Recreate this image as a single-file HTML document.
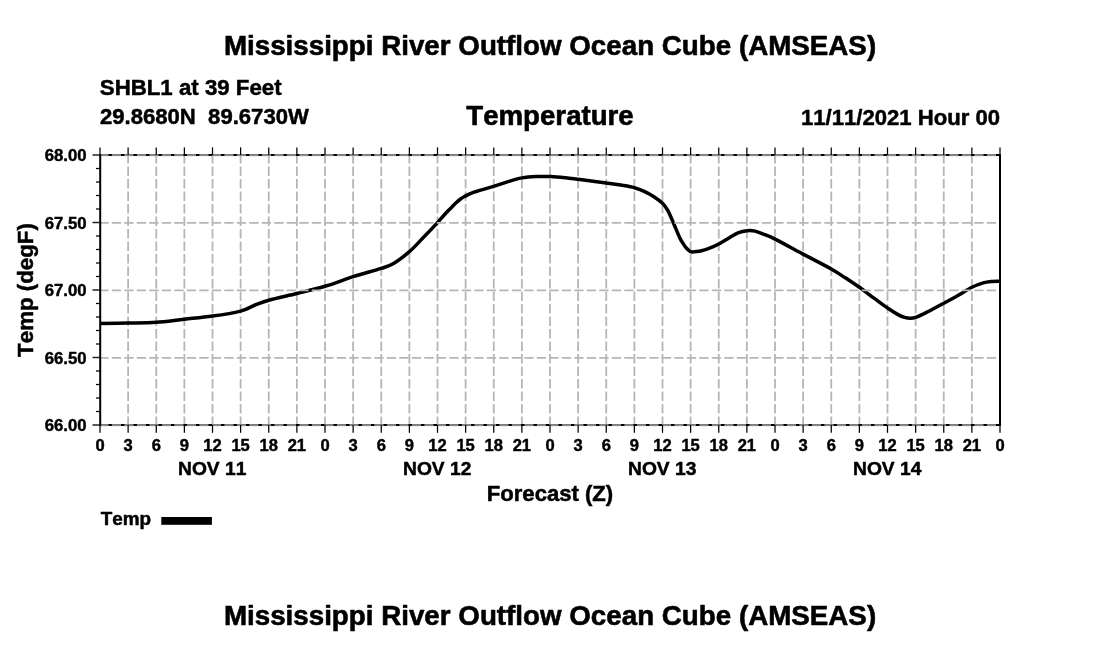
<!DOCTYPE html>
<html><head><meta charset="utf-8"><title>Temperature</title>
<style>html,body{margin:0;padding:0;background:#fff;}body{width:1100px;height:650px;overflow:hidden;font-family:"Liberation Sans",sans-serif;}text{font-kerning:none;font-feature-settings:"kern" 0,"liga" 0;}svg{display:block;will-change:transform;transform:translateZ(0);}</style></head>
<body>
<svg width="1100" height="650" viewBox="0 0 1100 650">
<rect width="1100" height="650" fill="#fff"/>
<g stroke="#b6b6b6" stroke-width="1.8" stroke-dasharray="9.3 3.2" fill="none">
<line x1="128.12" y1="425.9" x2="128.12" y2="155"/>
<line x1="156.25" y1="425.9" x2="156.25" y2="155"/>
<line x1="184.38" y1="425.9" x2="184.38" y2="155"/>
<line x1="212.50" y1="425.9" x2="212.50" y2="155"/>
<line x1="240.62" y1="425.9" x2="240.62" y2="155"/>
<line x1="268.75" y1="425.9" x2="268.75" y2="155"/>
<line x1="296.88" y1="425.9" x2="296.88" y2="155"/>
<line x1="325.00" y1="425.9" x2="325.00" y2="155"/>
<line x1="353.12" y1="425.9" x2="353.12" y2="155"/>
<line x1="381.25" y1="425.9" x2="381.25" y2="155"/>
<line x1="409.38" y1="425.9" x2="409.38" y2="155"/>
<line x1="437.50" y1="425.9" x2="437.50" y2="155"/>
<line x1="465.62" y1="425.9" x2="465.62" y2="155"/>
<line x1="493.75" y1="425.9" x2="493.75" y2="155"/>
<line x1="521.88" y1="425.9" x2="521.88" y2="155"/>
<line x1="550.00" y1="425.9" x2="550.00" y2="155"/>
<line x1="578.12" y1="425.9" x2="578.12" y2="155"/>
<line x1="606.25" y1="425.9" x2="606.25" y2="155"/>
<line x1="634.38" y1="425.9" x2="634.38" y2="155"/>
<line x1="662.50" y1="425.9" x2="662.50" y2="155"/>
<line x1="690.62" y1="425.9" x2="690.62" y2="155"/>
<line x1="718.75" y1="425.9" x2="718.75" y2="155"/>
<line x1="746.88" y1="425.9" x2="746.88" y2="155"/>
<line x1="775.00" y1="425.9" x2="775.00" y2="155"/>
<line x1="803.12" y1="425.9" x2="803.12" y2="155"/>
<line x1="831.25" y1="425.9" x2="831.25" y2="155"/>
<line x1="859.38" y1="425.9" x2="859.38" y2="155"/>
<line x1="887.50" y1="425.9" x2="887.50" y2="155"/>
<line x1="915.62" y1="425.9" x2="915.62" y2="155"/>
<line x1="943.75" y1="425.9" x2="943.75" y2="155"/>
<line x1="971.88" y1="425.9" x2="971.88" y2="155"/>
</g>
<path d="M100.0,323.6C104.7,323.5 118.7,323.3 128.1,323.1C137.5,322.9 146.8,323.0 156.2,322.3C165.6,321.6 175.0,320.2 184.4,319.2C193.8,318.2 203.1,317.5 212.5,316.1C221.9,314.8 233.7,312.9 240.6,311.1C247.5,309.3 249.3,307.3 254.0,305.5C258.7,303.7 261.7,302.2 268.8,300.2C275.9,298.2 287.5,295.8 296.9,293.5C306.3,291.2 315.6,289.1 325.0,286.3C334.4,283.5 343.7,279.7 353.1,276.7C362.5,273.7 374.4,270.6 381.2,268.4C388.0,266.1 389.3,266.0 394.0,263.2C398.7,260.4 404.6,255.8 409.4,251.7C414.2,247.5 417.9,243.2 422.6,238.3C427.3,233.5 434.1,226.3 437.5,222.6C440.9,218.9 441.4,218.1 443.3,216.0C445.2,213.9 446.9,212.1 449.1,209.8C451.3,207.6 454.5,204.3 456.4,202.5C458.3,200.7 459.1,200.0 460.5,199.0C461.9,198.0 462.8,197.4 464.5,196.5C466.2,195.6 468.6,194.2 470.9,193.3C473.2,192.4 474.6,192.0 478.2,190.9C481.8,189.8 487.8,188.2 492.7,186.7C497.6,185.2 502.5,183.4 507.3,181.9C512.1,180.4 516.9,178.8 521.8,177.9C526.6,177.0 531.5,176.7 536.4,176.5C541.2,176.3 546.0,176.4 550.9,176.6C555.8,176.8 560.6,177.3 565.5,177.8C570.4,178.3 573.2,178.7 580.0,179.5C586.8,180.3 599.4,182.0 606.2,182.9C613.0,183.8 616.0,184.3 620.7,185.1C625.4,185.9 630.4,186.6 634.4,187.7C638.4,188.8 641.5,190.1 644.7,191.6C647.9,193.1 650.5,194.5 653.5,196.4C656.5,198.3 660.1,200.9 662.5,203.2C664.9,205.5 665.8,207.0 667.6,210.2C669.4,213.4 671.1,217.6 673.1,222.2C675.1,226.8 677.9,233.8 679.6,237.5C681.3,241.2 682.4,242.4 683.5,244.2C684.6,246.0 685.5,247.1 686.5,248.2C687.5,249.3 688.4,250.3 689.3,250.9C690.2,251.5 690.8,251.8 692.0,251.9C693.2,252.0 695.0,251.8 696.6,251.6C698.2,251.4 699.6,251.2 701.5,250.7C703.4,250.2 705.7,249.5 707.7,248.8C709.8,248.1 711.9,247.2 713.8,246.4C715.6,245.6 716.1,245.5 718.8,244.0C721.5,242.5 726.5,239.4 729.8,237.5C733.1,235.6 735.8,233.8 738.6,232.7C741.5,231.6 744.2,231.0 746.9,230.7C749.6,230.4 752.0,230.4 755.0,231.1C758.0,231.8 761.4,233.3 764.7,234.6C768.0,235.9 768.6,235.8 775.0,239.1C781.4,242.3 793.7,249.1 803.1,254.1C812.5,259.1 824.1,265.0 831.2,269.0C838.3,273.0 841.0,275.1 845.7,278.1C850.4,281.2 854.7,284.0 859.4,287.3C864.1,290.6 869.3,294.8 874.0,298.2C878.7,301.6 883.5,305.3 887.5,308.0C891.5,310.7 895.1,313.0 898.0,314.6C900.9,316.2 902.6,316.8 904.6,317.4C906.6,318.0 908.2,318.3 910.0,318.3C911.8,318.3 912.9,318.4 915.6,317.4C918.4,316.4 921.8,314.8 926.5,312.4C931.2,310.0 938.7,305.9 943.8,303.2C948.9,300.5 952.3,298.6 957.0,296.0C961.7,293.4 967.5,289.5 971.9,287.3C976.3,285.1 979.9,283.9 983.2,282.9C986.5,281.9 989.1,281.7 991.9,281.4C994.7,281.1 998.6,281.2 1000.0,281.2" fill="none" stroke="#000" stroke-width="3.5" stroke-linejoin="round" stroke-linecap="butt"/>
<g stroke="#b6b6b6" stroke-width="1.8" stroke-dasharray="9.3 3.2" fill="none">
<line x1="99.3" y1="425.3" x2="1000" y2="425.3"/>
<line x1="99.3" y1="357.8" x2="1000" y2="357.8"/>
<line x1="99.3" y1="290.3" x2="1000" y2="290.3"/>
<line x1="99.3" y1="222.8" x2="1000" y2="222.8"/>
<line x1="99.3" y1="155.3" x2="1000" y2="155.3"/>
</g>
<line x1="99.3" y1="154.85" x2="1000" y2="154.85" stroke="#7c7c7c" stroke-width="1.8"/>
<line x1="108.5" y1="154.95" x2="1000" y2="154.95" stroke="#000" stroke-width="2.1" stroke-dasharray="3.4 9.1"/>
<line x1="99.3" y1="424.85" x2="1000" y2="424.85" stroke="#7c7c7c" stroke-width="1.8"/>
<line x1="108.5" y1="424.95000000000005" x2="1000" y2="424.95000000000005" stroke="#000" stroke-width="2.1" stroke-dasharray="3.4 9.1"/>
<g stroke="#000" stroke-width="2" fill="none"><line x1="100.2" y1="154.2" x2="100.2" y2="425.8"/><line x1="1000" y1="154.2" x2="1000" y2="425.8"/></g>
<g stroke="#000" stroke-width="1.25" fill="none">
<line x1="100.00" y1="147.4" x2="100.00" y2="155"/>
<line x1="100.00" y1="425" x2="100.00" y2="432.8"/>
<line x1="128.12" y1="147.4" x2="128.12" y2="155"/>
<line x1="128.12" y1="425" x2="128.12" y2="432.8"/>
<line x1="156.25" y1="147.4" x2="156.25" y2="155"/>
<line x1="156.25" y1="425" x2="156.25" y2="432.8"/>
<line x1="184.38" y1="147.4" x2="184.38" y2="155"/>
<line x1="184.38" y1="425" x2="184.38" y2="432.8"/>
<line x1="212.50" y1="147.4" x2="212.50" y2="155"/>
<line x1="212.50" y1="425" x2="212.50" y2="432.8"/>
<line x1="240.62" y1="147.4" x2="240.62" y2="155"/>
<line x1="240.62" y1="425" x2="240.62" y2="432.8"/>
<line x1="268.75" y1="147.4" x2="268.75" y2="155"/>
<line x1="268.75" y1="425" x2="268.75" y2="432.8"/>
<line x1="296.88" y1="147.4" x2="296.88" y2="155"/>
<line x1="296.88" y1="425" x2="296.88" y2="432.8"/>
<line x1="325.00" y1="147.4" x2="325.00" y2="155"/>
<line x1="325.00" y1="425" x2="325.00" y2="432.8"/>
<line x1="353.12" y1="147.4" x2="353.12" y2="155"/>
<line x1="353.12" y1="425" x2="353.12" y2="432.8"/>
<line x1="381.25" y1="147.4" x2="381.25" y2="155"/>
<line x1="381.25" y1="425" x2="381.25" y2="432.8"/>
<line x1="409.38" y1="147.4" x2="409.38" y2="155"/>
<line x1="409.38" y1="425" x2="409.38" y2="432.8"/>
<line x1="437.50" y1="147.4" x2="437.50" y2="155"/>
<line x1="437.50" y1="425" x2="437.50" y2="432.8"/>
<line x1="465.62" y1="147.4" x2="465.62" y2="155"/>
<line x1="465.62" y1="425" x2="465.62" y2="432.8"/>
<line x1="493.75" y1="147.4" x2="493.75" y2="155"/>
<line x1="493.75" y1="425" x2="493.75" y2="432.8"/>
<line x1="521.88" y1="147.4" x2="521.88" y2="155"/>
<line x1="521.88" y1="425" x2="521.88" y2="432.8"/>
<line x1="550.00" y1="147.4" x2="550.00" y2="155"/>
<line x1="550.00" y1="425" x2="550.00" y2="432.8"/>
<line x1="578.12" y1="147.4" x2="578.12" y2="155"/>
<line x1="578.12" y1="425" x2="578.12" y2="432.8"/>
<line x1="606.25" y1="147.4" x2="606.25" y2="155"/>
<line x1="606.25" y1="425" x2="606.25" y2="432.8"/>
<line x1="634.38" y1="147.4" x2="634.38" y2="155"/>
<line x1="634.38" y1="425" x2="634.38" y2="432.8"/>
<line x1="662.50" y1="147.4" x2="662.50" y2="155"/>
<line x1="662.50" y1="425" x2="662.50" y2="432.8"/>
<line x1="690.62" y1="147.4" x2="690.62" y2="155"/>
<line x1="690.62" y1="425" x2="690.62" y2="432.8"/>
<line x1="718.75" y1="147.4" x2="718.75" y2="155"/>
<line x1="718.75" y1="425" x2="718.75" y2="432.8"/>
<line x1="746.88" y1="147.4" x2="746.88" y2="155"/>
<line x1="746.88" y1="425" x2="746.88" y2="432.8"/>
<line x1="775.00" y1="147.4" x2="775.00" y2="155"/>
<line x1="775.00" y1="425" x2="775.00" y2="432.8"/>
<line x1="803.12" y1="147.4" x2="803.12" y2="155"/>
<line x1="803.12" y1="425" x2="803.12" y2="432.8"/>
<line x1="831.25" y1="147.4" x2="831.25" y2="155"/>
<line x1="831.25" y1="425" x2="831.25" y2="432.8"/>
<line x1="859.38" y1="147.4" x2="859.38" y2="155"/>
<line x1="859.38" y1="425" x2="859.38" y2="432.8"/>
<line x1="887.50" y1="147.4" x2="887.50" y2="155"/>
<line x1="887.50" y1="425" x2="887.50" y2="432.8"/>
<line x1="915.62" y1="147.4" x2="915.62" y2="155"/>
<line x1="915.62" y1="425" x2="915.62" y2="432.8"/>
<line x1="943.75" y1="147.4" x2="943.75" y2="155"/>
<line x1="943.75" y1="425" x2="943.75" y2="432.8"/>
<line x1="971.88" y1="147.4" x2="971.88" y2="155"/>
<line x1="971.88" y1="425" x2="971.88" y2="432.8"/>
<line x1="1000.00" y1="147.4" x2="1000.00" y2="155"/>
<line x1="1000.00" y1="425" x2="1000.00" y2="432.8"/>
<line x1="92.5" y1="425.0" x2="100" y2="425.0" stroke="#222" stroke-width="1.5"/>
<line x1="96" y1="411.5" x2="100" y2="411.5"/>
<line x1="96" y1="398.0" x2="100" y2="398.0"/>
<line x1="96" y1="384.5" x2="100" y2="384.5"/>
<line x1="96" y1="371.0" x2="100" y2="371.0"/>
<line x1="92.5" y1="357.5" x2="100" y2="357.5" stroke="#222" stroke-width="1.5"/>
<line x1="96" y1="344.0" x2="100" y2="344.0"/>
<line x1="96" y1="330.5" x2="100" y2="330.5"/>
<line x1="96" y1="317.0" x2="100" y2="317.0"/>
<line x1="96" y1="303.5" x2="100" y2="303.5"/>
<line x1="92.5" y1="290.0" x2="100" y2="290.0" stroke="#222" stroke-width="1.5"/>
<line x1="96" y1="276.5" x2="100" y2="276.5"/>
<line x1="96" y1="263.0" x2="100" y2="263.0"/>
<line x1="96" y1="249.5" x2="100" y2="249.5"/>
<line x1="96" y1="236.0" x2="100" y2="236.0"/>
<line x1="92.5" y1="222.5" x2="100" y2="222.5" stroke="#222" stroke-width="1.5"/>
<line x1="96" y1="209.0" x2="100" y2="209.0"/>
<line x1="96" y1="195.5" x2="100" y2="195.5"/>
<line x1="96" y1="182.0" x2="100" y2="182.0"/>
<line x1="96" y1="168.5" x2="100" y2="168.5"/>
<line x1="92.5" y1="155.0" x2="100" y2="155.0" stroke="#222" stroke-width="1.5"/>
</g>
<g font-family="Liberation Sans, sans-serif" font-weight="bold" fill="#000" stroke="#000" stroke-width="0.5" stroke-linejoin="round">
<text x="223.9" y="54.8" font-size="27.75" stroke-width="0.6">Mississippi River Outflow Ocean Cube (AMSEAS)</text>
<text x="223.9" y="624.9" font-size="27.75" stroke-width="0.6">Mississippi River Outflow Ocean Cube (AMSEAS)</text>
<text x="99.8" y="94.7" font-size="22.25">SHBL1 at 39 Feet</text>
<text x="100" y="124.4" font-size="22.1" xml:space="preserve">29.8680N  89.6730W</text>
<text x="550" y="124.9" font-size="27.65" stroke-width="0.6" text-anchor="middle">Temperature</text>
<text x="1000" y="124.9" font-size="22.1" text-anchor="end">11/11/2021 Hour 00</text>
<text x="550" y="500.8" font-size="22.1" text-anchor="middle">Forecast (Z)</text>
<text transform="translate(33.1,290) rotate(-90)" font-size="22.3" text-anchor="middle">Temp (degF)</text>
<text x="100.7" y="524.9" font-size="18.9">Temp</text>
<text x="86.6" y="431.0" font-size="16.75" stroke-width="0.45" text-anchor="end">66.00</text>
<text x="86.6" y="363.5" font-size="16.75" stroke-width="0.45" text-anchor="end">66.50</text>
<text x="86.6" y="296.0" font-size="16.75" stroke-width="0.45" text-anchor="end">67.00</text>
<text x="86.6" y="228.5" font-size="16.75" stroke-width="0.45" text-anchor="end">67.50</text>
<text x="86.6" y="161.0" font-size="16.75" stroke-width="0.45" text-anchor="end">68.00</text>
<text x="100.00" y="450.7" font-size="16.55" stroke-width="0.45" text-anchor="middle">0</text>
<text x="128.12" y="450.7" font-size="16.55" stroke-width="0.45" text-anchor="middle">3</text>
<text x="156.25" y="450.7" font-size="16.55" stroke-width="0.45" text-anchor="middle">6</text>
<text x="184.38" y="450.7" font-size="16.55" stroke-width="0.45" text-anchor="middle">9</text>
<text x="212.50" y="450.7" font-size="16.55" stroke-width="0.45" text-anchor="middle">12</text>
<text x="240.62" y="450.7" font-size="16.55" stroke-width="0.45" text-anchor="middle">15</text>
<text x="268.75" y="450.7" font-size="16.55" stroke-width="0.45" text-anchor="middle">18</text>
<text x="296.88" y="450.7" font-size="16.55" stroke-width="0.45" text-anchor="middle">21</text>
<text x="325.00" y="450.7" font-size="16.55" stroke-width="0.45" text-anchor="middle">0</text>
<text x="353.12" y="450.7" font-size="16.55" stroke-width="0.45" text-anchor="middle">3</text>
<text x="381.25" y="450.7" font-size="16.55" stroke-width="0.45" text-anchor="middle">6</text>
<text x="409.38" y="450.7" font-size="16.55" stroke-width="0.45" text-anchor="middle">9</text>
<text x="437.50" y="450.7" font-size="16.55" stroke-width="0.45" text-anchor="middle">12</text>
<text x="465.62" y="450.7" font-size="16.55" stroke-width="0.45" text-anchor="middle">15</text>
<text x="493.75" y="450.7" font-size="16.55" stroke-width="0.45" text-anchor="middle">18</text>
<text x="521.88" y="450.7" font-size="16.55" stroke-width="0.45" text-anchor="middle">21</text>
<text x="550.00" y="450.7" font-size="16.55" stroke-width="0.45" text-anchor="middle">0</text>
<text x="578.12" y="450.7" font-size="16.55" stroke-width="0.45" text-anchor="middle">3</text>
<text x="606.25" y="450.7" font-size="16.55" stroke-width="0.45" text-anchor="middle">6</text>
<text x="634.38" y="450.7" font-size="16.55" stroke-width="0.45" text-anchor="middle">9</text>
<text x="662.50" y="450.7" font-size="16.55" stroke-width="0.45" text-anchor="middle">12</text>
<text x="690.62" y="450.7" font-size="16.55" stroke-width="0.45" text-anchor="middle">15</text>
<text x="718.75" y="450.7" font-size="16.55" stroke-width="0.45" text-anchor="middle">18</text>
<text x="746.88" y="450.7" font-size="16.55" stroke-width="0.45" text-anchor="middle">21</text>
<text x="775.00" y="450.7" font-size="16.55" stroke-width="0.45" text-anchor="middle">0</text>
<text x="803.12" y="450.7" font-size="16.55" stroke-width="0.45" text-anchor="middle">3</text>
<text x="831.25" y="450.7" font-size="16.55" stroke-width="0.45" text-anchor="middle">6</text>
<text x="859.38" y="450.7" font-size="16.55" stroke-width="0.45" text-anchor="middle">9</text>
<text x="887.50" y="450.7" font-size="16.55" stroke-width="0.45" text-anchor="middle">12</text>
<text x="915.62" y="450.7" font-size="16.55" stroke-width="0.45" text-anchor="middle">15</text>
<text x="943.75" y="450.7" font-size="16.55" stroke-width="0.45" text-anchor="middle">18</text>
<text x="971.88" y="450.7" font-size="16.55" stroke-width="0.45" text-anchor="middle">21</text>
<text x="1000.00" y="450.7" font-size="16.55" stroke-width="0.45" text-anchor="middle">0</text>
<text x="212.20" y="474.8" font-size="19.2" text-anchor="middle">NOV 11</text>
<text x="437.20" y="474.8" font-size="19.2" text-anchor="middle">NOV 12</text>
<text x="662.20" y="474.8" font-size="19.2" text-anchor="middle">NOV 13</text>
<text x="887.20" y="474.8" font-size="19.2" text-anchor="middle">NOV 14</text>
</g>
<rect x="161.3" y="517" width="50.6" height="7.8" fill="#000"/>
</svg>
</body></html>
